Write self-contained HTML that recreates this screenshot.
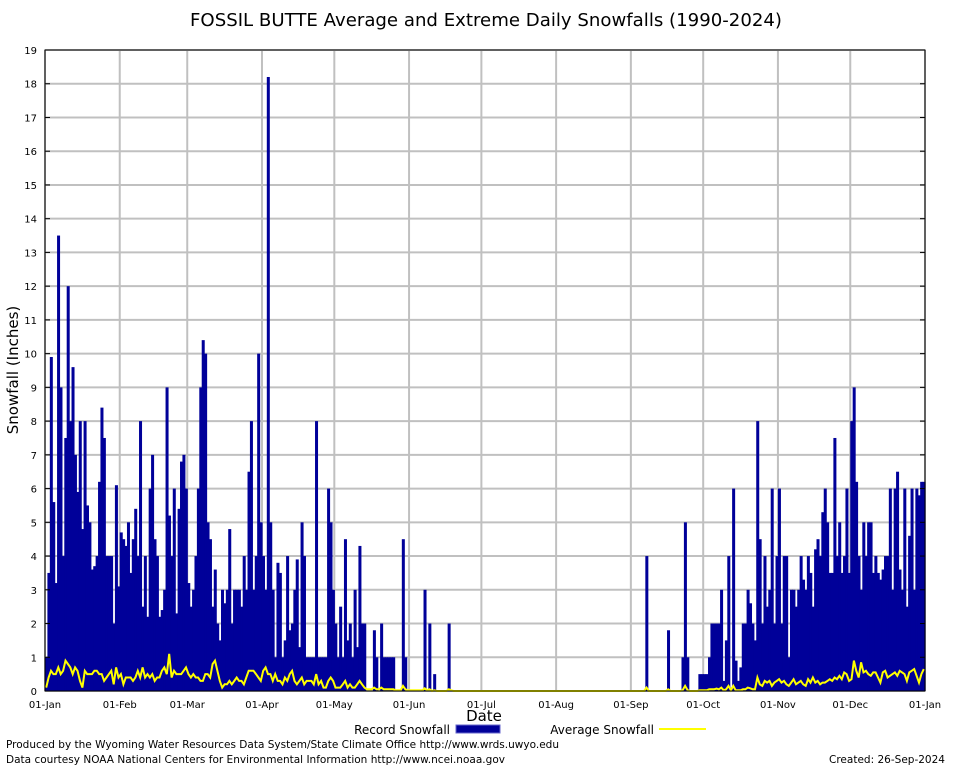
<!DOCTYPE html>
<html><head><meta charset="utf-8"><style>
body{margin:0;background:#fff;font-family:"DejaVu Sans","Liberation Sans",sans-serif;}
svg text{font-family:"DejaVu Sans","Liberation Sans",sans-serif;}
</style></head><body>
<svg id="c" width="954" height="768" xmlns="http://www.w3.org/2000/svg">
<rect x="0" y="0" width="954" height="768" fill="#fff"/>
<text x="486" y="26" font-size="18" text-anchor="middle" textLength="592" lengthAdjust="spacingAndGlyphs">FOSSIL BUTTE Average and Extreme Daily Snowfalls (1990-2024)</text>
<g id="grid"></g><g id="bars"></g><g id="avg"></g><g id="axes"></g>
<text transform="translate(18,370) rotate(-90)" font-size="15" text-anchor="middle">Snowfall (Inches)</text>
<text x="484" y="721" font-size="15" text-anchor="middle">Date</text>
<g>
<text x="450" y="734" font-size="12" text-anchor="end">Record Snowfall</text>
<rect x="456" y="725" width="44" height="8" fill="#000099" stroke="#6666cc"/>
<text x="654" y="734" font-size="12" text-anchor="end">Average Snowfall</text>
<line x1="659" y1="729" x2="706" y2="729" stroke="#ffff00" stroke-width="2"/>
</g>
<text x="6" y="748" font-size="11" textLength="553" lengthAdjust="spacingAndGlyphs">Produced by the Wyoming Water Resources Data System/State Climate Office http://www.wrds.uwyo.edu</text>
<text x="6" y="763" font-size="11" textLength="499" lengthAdjust="spacingAndGlyphs">Data courtesy NOAA National Centers for Environmental Information http://www.ncei.noaa.gov</text>
<text x="945" y="763" font-size="11" text-anchor="end" textLength="116" lengthAdjust="spacingAndGlyphs">Created:  26-Sep-2024</text>
</svg>
<script>
const monthLabels=["01-Jan","01-Feb","01-Mar","01-Apr","01-May","01-Jun","01-Jul","01-Aug","01-Sep","01-Oct","01-Nov","01-Dec","01-Jan"];
const monthStarts=[0,31,59,90,120,151,181,212,243,273,304,334,365];
const yTicks=[0,1,2,3,4,5,6,7,8,9,10,11,12,13,14,15,16,17,18,19];
const recJan=[1.0,3.5,9.9,5.6,3.2,13.5,9.0,4.0,7.5,12.0,8.0,9.6,7.0,5.9,8.0,4.8,8.0,5.5,5.0,3.6,3.7,4.0,6.2,8.4,7.5,4.0,4.0,4.0,2.0,6.1,3.1];
const recFeb=[4.7,4.5,4.3,5.0,3.5,4.5,5.4,4.0,8.0,2.5,4.0,2.2,6.0,7.0,4.5,4.0,2.2,2.4,3.0,9.0,5.2,4.0,6.0,2.3,5.4,6.8,7.0,6.0];
const recMar=[3.2,2.5,3.0,4.0,6.0,9.0,10.4,10.0,5.0,4.5,2.5,3.6,2.0,1.5,3.0,2.6,3.0,4.8,2.0,3.0,3.0,3.0,2.5,4.0,3.0,6.5,8.0,3.0,4.0,10.0,5.0];
const recApr=[4.0,3.0,18.2,5.0,3.0,1.0,3.8,3.5,1.0,1.5,4.0,1.8,2.0,3.0,3.9,1.3,5.0,4.0,1.0,1.0,1.0,1.0,8.0,1.0,1.0,1.0,1.0,6.0,5.0,3.0];
const recMay=[2.0,1.0,2.5,1.0,4.5,1.5,2.0,1.0,3.0,1.3,4.3,2.0,2.0,0,0,0,1.8,1.0,0,2.0,1.0,1.0,1.0,1.0,1.0,0,0,0,4.5,1.0,0];
const recJun=[0,0,0,0,0,0,3.0,0,2.0,0,0.5,0,0,0,0,0,2.0,0,0,0,0,0,0,0,0,0,0,0,0,0];
const recJul=new Array(31).fill(0);
const recAug=new Array(31).fill(0);
const recSep=[0,0,0,0,0,0,4.0,0,0,0,0,0,0,0,0,1.8,0,0,0,0,0,1.0,5.0,1.0,0,0,0,0,0.5,0.5];
const recOct=[0.5,0.5,1.0,2.0,2.0,2.0,2.0,3.0,0.3,1.5,4.0,0.1,6.0,0.9,0.3,0.7,2.0,2.0,3.0,2.6,2.0,1.5,8.0,4.5,2.0,4.0,2.5,3.0,6.0,2.0,4.0];
const recNov=[6.0,2.0,4.0,4.0,1.0,3.0,3.0,2.5,3.0,4.0,3.3,3.0,4.0,3.5,2.5,4.2,4.5,4.0,5.3,6.0,5.0,3.5,3.5,7.5,4.0,5.0,3.5,4.0,6.0,3.5];
const recDec=[8.0,9.0,6.2,4.0,3.0,5.0,4.0,5.0,5.0,3.5,4.0,3.5,3.3,3.6,4.0,4.0,6.0,3.0,6.0,6.5,3.6,3.0,6.0,2.5,4.6,6.0,3.0,6.0,5.8,6.2,6.2];
const avgJan=[0.1,0.4,0.6,0.5,0.5,0.7,0.5,0.6,0.9,0.8,0.7,0.5,0.7,0.6,0.3,0.1,0.6,0.5,0.5,0.5,0.6,0.6,0.5,0.5,0.3,0.4,0.5,0.6,0.2,0.7,0.4];
const avgFeb=[0.5,0.2,0.4,0.4,0.4,0.3,0.4,0.6,0.4,0.7,0.4,0.5,0.4,0.5,0.3,0.4,0.4,0.6,0.7,0.5,1.1,0.4,0.6,0.5,0.5,0.5,0.6,0.7];
const avgMar=[0.5,0.4,0.5,0.4,0.4,0.3,0.3,0.5,0.5,0.4,0.8,0.9,0.6,0.3,0.1,0.2,0.2,0.3,0.2,0.3,0.4,0.3,0.3,0.2,0.4,0.6,0.6,0.6,0.5,0.4,0.3];
const avgApr=[0.6,0.7,0.5,0.5,0.3,0.5,0.3,0.3,0.2,0.4,0.3,0.5,0.6,0.3,0.2,0.3,0.4,0.2,0.3,0.3,0.3,0.2,0.5,0.2,0.3,0.1,0.1,0.3,0.4,0.3];
const avgMay=[0.1,0.1,0.1,0.2,0.3,0.1,0.2,0.1,0.1,0.2,0.3,0.2,0.1,0.05,0.05,0.05,0.1,0.05,0.05,0.1,0.05,0.05,0.05,0.05,0.05,0.02,0.02,0.02,0.15,0.05,0.02];
const avgJun=[0.02,0.02,0.02,0.02,0.02,0.02,0.08,0.02,0.05,0,0.02,0,0,0,0,0,0.05,0.02,0,0,0,0,0,0,0,0,0,0,0,0];
const avgJul=new Array(31).fill(0);
const avgAug=new Array(31).fill(0);
const avgSep=[0,0,0,0,0,0,0.1,0,0,0,0,0,0,0,0,0.05,0,0,0,0,0,0.03,0.15,0.03,0,0,0,0,0.02,0.02];
const avgOct=[0.02,0.02,0.05,0.05,0.05,0.07,0.05,0.1,0.02,0.05,0.15,0.02,0.15,0.02,0.02,0.02,0.05,0.05,0.1,0.08,0.05,0.05,0.4,0.2,0.15,0.3,0.25,0.3,0.15,0.25,0.3];
const avgNov=[0.35,0.25,0.3,0.2,0.15,0.25,0.35,0.2,0.25,0.3,0.2,0.15,0.35,0.25,0.4,0.25,0.3,0.2,0.25,0.25,0.3,0.35,0.3,0.4,0.35,0.45,0.35,0.55,0.5,0.3];
const avgDec=[0.35,0.9,0.6,0.4,0.85,0.55,0.6,0.5,0.45,0.55,0.55,0.4,0.25,0.55,0.6,0.4,0.45,0.5,0.55,0.45,0.6,0.55,0.5,0.3,0.55,0.6,0.65,0.45,0.25,0.5,0.65];
const record=[].concat(recJan,recFeb,recMar,recApr,recMay,recJun,recJul,recAug,recSep,recOct,recNov,recDec);
const average=[].concat(avgJan,avgFeb,avgMar,avgApr,avgMay,avgJun,avgJul,avgAug,avgSep,avgOct,avgNov,avgDec);
const NS="http://www.w3.org/2000/svg";
const X0=45,X1=925,Y0=691,Y1=50;
function xs(d){return X0+(X1-X0)*d/365;}
function ys(v){return Y0-(Y0-Y1)*v/19;}
function mk(tag,attrs,parent){const e=document.createElementNS(NS,tag);for(const k in attrs)e.setAttribute(k,attrs[k]);parent.appendChild(e);return e;}
const grid=document.getElementById('grid'),bars=document.getElementById('bars'),avg=document.getElementById('avg'),axes=document.getElementById('axes');
yTicks.forEach(t=>{
 const l=mk('line',{x1:X0,x2:X1,y1:ys(t),y2:ys(t),stroke:'#c0c0c0','stroke-width':2},grid);
 
 
 const tx=mk('text',{x:X0-8,y:ys(t)+4,'font-size':10,'text-anchor':'end'},axes);
 tx.textContent=t;
 
 
 mk('line',{x1:X0,x2:X0+5,y1:ys(t),y2:ys(t),stroke:'#000'},axes);
 mk('line',{x1:X1-5,x2:X1,y1:ys(t),y2:ys(t),stroke:'#000'},axes);
});
monthStarts.forEach((d,i)=>{
 const l=mk('line',{x1:xs(d),x2:xs(d),y1:Y1,y2:Y0,stroke:'#c0c0c0','stroke-width':2},grid);
 
 
 const tx=mk('text',{x:xs(d),y:708,'font-size':10,'text-anchor':'middle'},axes);
 tx.textContent=monthLabels[i];
 
 
});
const w=(X1-X0)/365;
record.forEach((v,i)=>{
 if(v<=0)return;
 const r=mk('rect',{x:xs(i),y:ys(v),width:w+0.6,height:Y0-ys(v),fill:'#000099'},bars);
 
 
});
const pts=average.map((v,i)=>xs(i+0.5).toFixed(1)+','+ys(v).toFixed(1)).join(' ');
const pl=mk('polyline',{points:pts,fill:'none',stroke:'#ffff00','stroke-width':2},avg);


const fr=mk('rect',{x:X0,y:Y1,width:X1-X0,height:Y0-Y1,fill:'none',stroke:'#000'},axes);


</script>
</body></html>
